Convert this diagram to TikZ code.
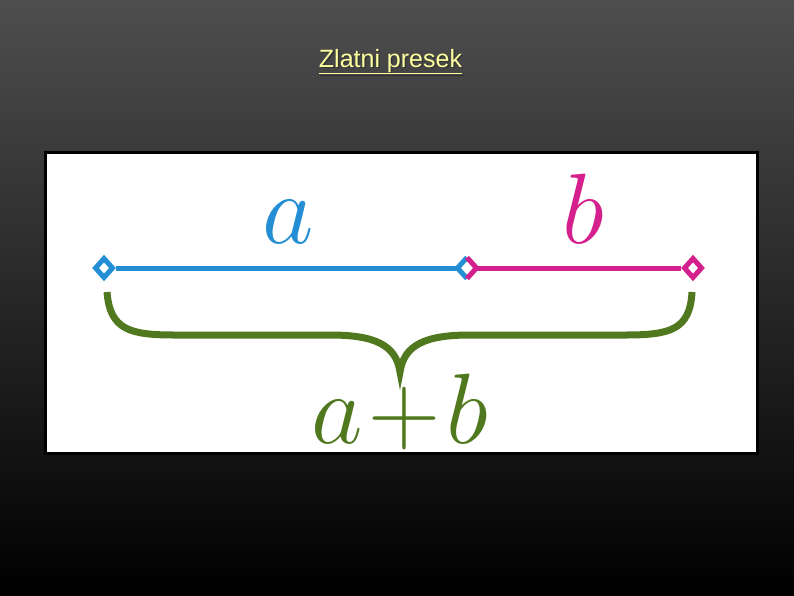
\documentclass[tikz,border=0pt]{standalone}
\usepackage{fix-cm}
\usepackage{fontspec}
\setsansfont{Liberation Sans}
\usetikzlibrary{shapes.geometric,positioning}
\definecolor{bgtop}{RGB}{78,78,78}
\definecolor{segA}{RGB}{36,142,212}
\definecolor{segB}{RGB}{212,32,140}
\definecolor{braceC}{RGB}{80,120,30}
\definecolor{titleC}{RGB}{255,255,160}
\tikzset{endpt/.style={diamond,fill=white,line width=5,minimum width=19,minimum height=21,inner sep=0},
big/.style={font=\fontsize{100}{100}\selectfont,inner sep=0,anchor=base}}
\begin{document}
\begin{tikzpicture}[x=1pt,y=-1pt]
\shade[top color=bgtop,bottom color=black](0,0)rectangle(794,595);
\useasboundingbox(0,0)rectangle(794,595);
% title with shadow
\node[font=\sffamily\fontsize{25}{25}\selectfont,text=black!80,anchor=base](tsh)at(392,68.5){\underline{Zlatni presek}};
\node[font=\sffamily\fontsize{25}{25}\selectfont,text=titleC,anchor=base](title)at(390.5,67){\underline{Zlatni presek}};
% picture frame
\draw[line width=3,fill=white](45,152)rectangle(757,453);
% segments
\node[endpt,draw=segA](P)at(104,268){};
\node[endpt,draw=segB](Q)at(693,268){};
\coordinate(M)at(467,268);
\draw[segA,line width=5](P)--(M);
\draw[segB,line width=5](M)--(Q);
\fill[white](M)+(0,-10.5)--+(-9.5,0)--+(0,10.5)--+(9.5,0)--cycle;
\draw[segA,line width=5](M)+(0,-10.5)--+(-9.5,0)--+(0,10.5);
\draw[segB,line width=5](M)+(0,-10.5)--+(9.5,0)--+(0,10.5);
\node[big,text=segA](la)at(288,243){$a$};
\node[big,text=segB](lb)at(583,243){$b$};
% brace
\draw[braceC,line width=7](107,292)..controls(110,330)and(130,335)..(175,335)--(330,335)
..controls(375,335)and(396,345)..(400,372)..controls(404,345)and(425,335)..(470,335)
--(625,335)..controls(670,335)and(690,330)..(692,292);
\node[big,text=braceC](lab)at(400,443){$a\!+\!b$};
\end{tikzpicture}
\end{document}
